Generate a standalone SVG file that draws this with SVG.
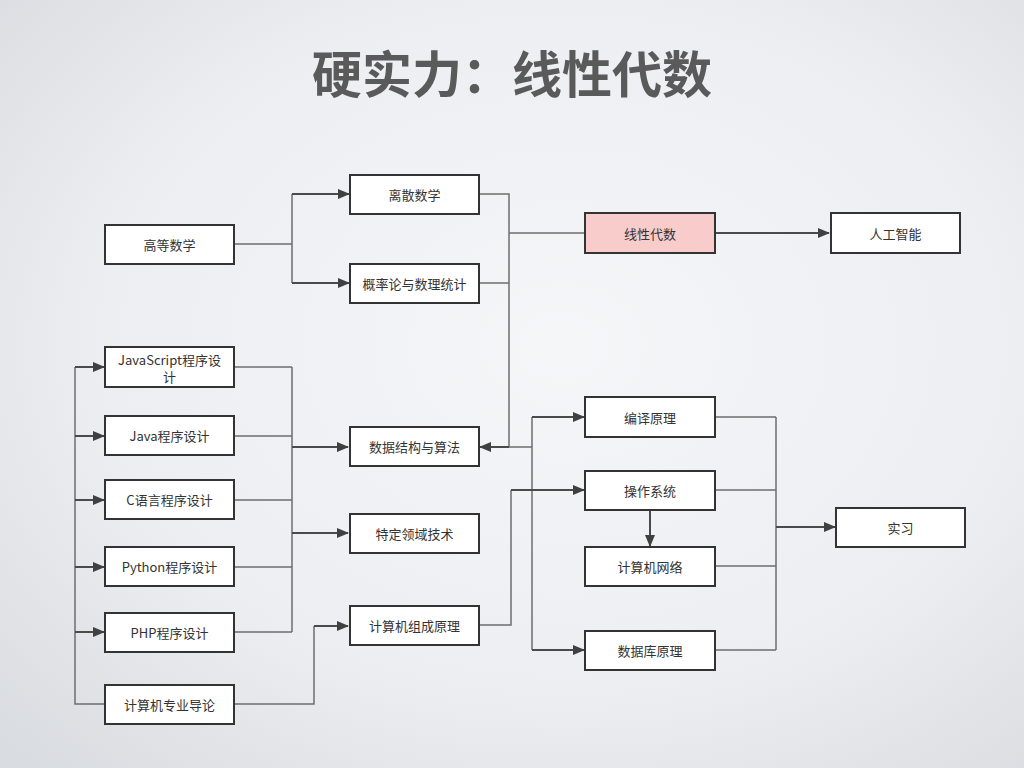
<svg xmlns="http://www.w3.org/2000/svg" width="1024" height="768" viewBox="0 0 1024 768">
<defs>
<radialGradient id="bg" cx="0.55" cy="0.45" r="0.75">
<stop offset="0" stop-color="#f5f6f8"/>
<stop offset="0.6" stop-color="#eceef1"/>
<stop offset="1" stop-color="#d9dce0"/>
</radialGradient>
<marker id="arr" markerWidth="12" markerHeight="10" refX="11" refY="5" orient="auto" markerUnits="userSpaceOnUse">
<path d="M0,0 L12,5 L0,10 Z" fill="#404040"/>
</marker>
<style>
.box{fill:#ffffff;stroke:#333333;stroke-width:2}
.pink{fill:#f9cccc}
.t{font-family:"Noto Sans CJK SC","Microsoft YaHei",sans-serif;font-size:13px;fill:#333333;text-anchor:middle;dominant-baseline:central}
.ln{fill:none;stroke:#6e6e6e;stroke-width:1.5}
.la{fill:none;stroke:#4a4a4a;stroke-width:2;marker-end:url(#arr)}
.title{font-family:"Noto Sans CJK SC",sans-serif;font-size:50px;font-weight:bold;fill:#5a5a5a;text-anchor:middle}
</style>
</defs>
<rect width="1024" height="768" fill="url(#bg)"/>
<text class="title" x="512" y="93">硬实力：线性代数</text>

<g id="connectors">
<!-- 高等数学 -> 离散/概率 -->
<path class="ln" d="M234,244 H292 M292,194 V283"/>
<path class="la" d="M292,194 H349"/>
<path class="la" d="M292,283 H349"/>
<!-- 离散/概率 -> 线性代数 / 数据结构 -->
<path class="ln" d="M479,194 H509 V447 M479,283 H509 M509,233 H585"/>
<path class="la" d="M509,447 H480"/>
<!-- 数据结构 -> 编译 / 数据库 -->
<path class="ln" d="M509,447 H532 M532,417 V650"/>
<path class="la" d="M532,417 H584"/>
<path class="la" d="M532,650 H584"/>
<!-- 线性代数 -> 人工智能 -->
<path class="la" d="M715,233 H829"/>
<!-- 组成原理 -> 操作系统 -->
<path class="ln" d="M479,625 H511 V490"/>
<path class="la" d="M511,490 H584"/>
<!-- 操作系统 -> 计算机网络 -->
<path class="la" d="M650,510 V546"/>
<!-- right merge -> 实习 -->
<path class="ln" d="M715,417 H776 M715,490 H776 M715,566 H776 M715,650 H776 M776,417 V650"/>
<path class="la" d="M776,527 H835"/>
<!-- 导论 -> languages -->
<path class="ln" d="M105,704 H75 V367"/>
<path class="la" d="M75,367 H104"/>
<path class="la" d="M75,436 H104"/>
<path class="la" d="M75,500 H104"/>
<path class="la" d="M75,567 H104"/>
<path class="la" d="M75,632 H104"/>
<!-- 导论 -> 组成原理 -->
<path class="ln" d="M234,704 H314 V626"/>
<path class="la" d="M314,626 H348"/>
<!-- languages -> 数据结构 / 特定领域 -->
<path class="ln" d="M234,367 H292 M234,436 H292 M234,500 H292 M234,567 H292 M234,632 H292 M292,367 V632"/>
<path class="la" d="M292,447 H348"/>
<path class="la" d="M292,533 H348"/>
</g>

<g id="n-gaodeng"><rect class="box" x="105" y="225" width="129" height="39"/><text class="t" x="169.5" y="244.5">高等数学</text></g>
<g id="n-lisan"><rect class="box" x="350" y="175" width="129" height="39"/><text class="t" x="414.5" y="194.5">离散数学</text></g>
<g id="n-gailv"><rect class="box" x="350" y="264" width="129" height="39"/><text class="t" x="414.5" y="283.5">概率论与数理统计</text></g>
<g id="n-xianxing"><rect class="box pink" x="585" y="213" width="130" height="40"/><text class="t" x="650" y="233">线性代数</text></g>
<g id="n-ai"><rect class="box" x="831" y="213" width="129" height="40"/><text class="t" x="895.5" y="233">人工智能</text></g>
<g id="n-js"><rect class="box" x="105" y="347" width="129" height="40"/><text class="t" x="169.5" y="359">JavaScript程序设</text><text class="t" x="169.5" y="376">计</text></g>
<g id="n-java"><rect class="box" x="105" y="416" width="129" height="39"/><text class="t" x="169.5" y="435.5">Java程序设计</text></g>
<g id="n-c"><rect class="box" x="105" y="480" width="129" height="39"/><text class="t" x="169.5" y="499.5">C语言程序设计</text></g>
<g id="n-python"><rect class="box" x="105" y="547" width="129" height="39"/><text class="t" x="169.5" y="566.5">Python程序设计</text></g>
<g id="n-php"><rect class="box" x="105" y="613" width="129" height="39"/><text class="t" x="169.5" y="632.5">PHP程序设计</text></g>
<g id="n-daolun"><rect class="box" x="105" y="685" width="129" height="39"/><text class="t" x="169.5" y="704.5">计算机专业导论</text></g>
<g id="n-shuju"><rect class="box" x="350" y="427" width="129" height="39"/><text class="t" x="414.5" y="446.5">数据结构与算法</text></g>
<g id="n-teding"><rect class="box" x="350" y="514" width="129" height="39"/><text class="t" x="414.5" y="533.5">特定领域技术</text></g>
<g id="n-zucheng"><rect class="box" x="350" y="606" width="129" height="39"/><text class="t" x="414.5" y="625.5">计算机组成原理</text></g>
<g id="n-bianyi"><rect class="box" x="585" y="397" width="130" height="40"/><text class="t" x="650" y="417">编译原理</text></g>
<g id="n-caozuo"><rect class="box" x="585" y="471" width="130" height="39"/><text class="t" x="650" y="490.5">操作系统</text></g>
<g id="n-wangluo"><rect class="box" x="585" y="547" width="130" height="39"/><text class="t" x="650" y="566.5">计算机网络</text></g>
<g id="n-shujuku"><rect class="box" x="585" y="631" width="130" height="39"/><text class="t" x="650" y="650.5">数据库原理</text></g>
<g id="n-shixi"><rect class="box" x="836" y="508" width="129" height="39"/><text class="t" x="900.5" y="527.5">实习</text></g>
</svg>
